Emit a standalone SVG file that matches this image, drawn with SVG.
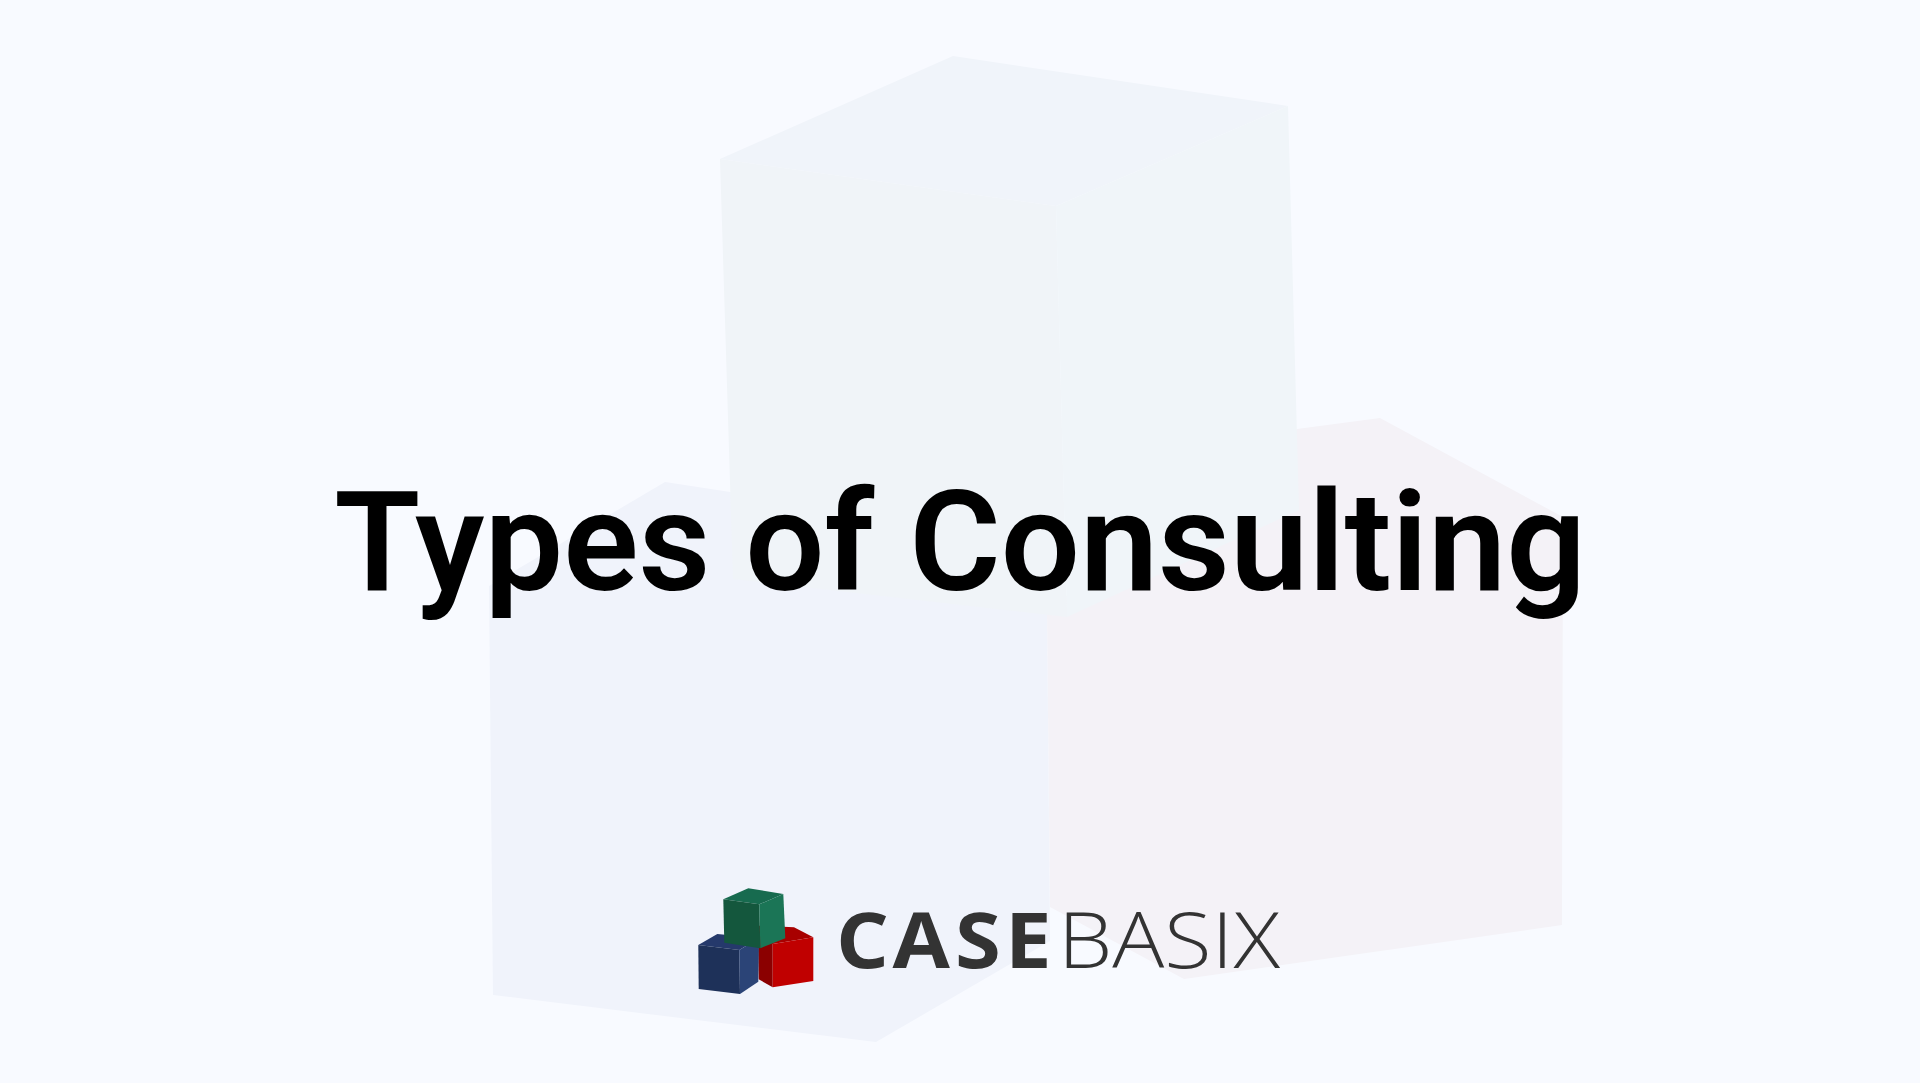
<svg xmlns="http://www.w3.org/2000/svg" width="1920" height="1083" viewBox="0 0 1920 1083">
<style>
.wb{fill:#f0f3fb}.wr{fill:#f4f2f7}.wgt{fill:#f0f4fa}.wgl{fill:#f0f4f8}.wgr{fill:#f0f5f9}
.title{font-family:Roboto,"Liberation Sans",sans-serif;font-weight:600;font-size:140px;fill:#000}
.lg{font-family:"Open Sans","Noto Sans",sans-serif;fill:#333;font-size:77px}
</style>
<rect width="1920" height="1083" fill="#f8faff"/>
<g id="watermark">
<polygon class="wb" points="665,482 730,492 1047,610 1050,941 876,1042 493,995 489,586"/>
<polygon class="wr" points="1297,429 1380,418 1563,517 1562,925 1184,979 1050,907 1047,610"/>
<polygon class="wgt" points="953,56 1288,106 1056,206 720,159"/>
<polygon class="wgl" points="720,159 1056,206 1067,617 733,579"/>
<polygon class="wgr" points="1056,206 1288,106 1299,510 1067,617"/>
</g>
<g id="title"><text class="title" x="960" y="590" text-anchor="middle">Types of Consulting</text></g>
<g id="logo">
<g id="cube-red">
<polygon fill="#a80000" points="745,925 794,927.3 813.3,937.3 772.7,944 758,945"/>
<polygon fill="#8b0000" points="758,940 772.7,944 772.7,987.3 758.7,979.3"/>
<polygon fill="#c00000" points="772.7,944 813.3,937.3 813.3,981 772.7,987.3"/>
</g>
<g id="cube-blue">
<polygon fill="#25396b" points="698.3,945 717.3,934 759,938 739.3,950"/>
<polygon fill="#1e3159" points="698.3,945 739.3,950 740,994 698.7,989"/>
<polygon fill="#2b4477" points="739.3,950 759,938 758.3,981.7 740,994"/>
</g>
<g id="cube-green">
<polygon fill="#176b4f" points="748.3,888.3 783.3,894 759.3,904.3 723.3,899.3"/>
<polygon fill="#14573d" points="723.3,899.3 759.3,904.3 760.3,948.3 724.3,942.7"/>
<polygon fill="#1b7556" points="759.3,904.3 783.3,894 785.3,938.3 760.3,948.3"/>
</g>
<text class="lg" transform="translate(836,968) scale(1.08,1)" y="0" font-weight="750" x="0 52.3 110.2 156.5">CASE</text>
<text class="lg" x="1058" y="968" font-weight="300" textLength="222" lengthAdjust="spacingAndGlyphs">BASIX</text>
</g>
</svg>
